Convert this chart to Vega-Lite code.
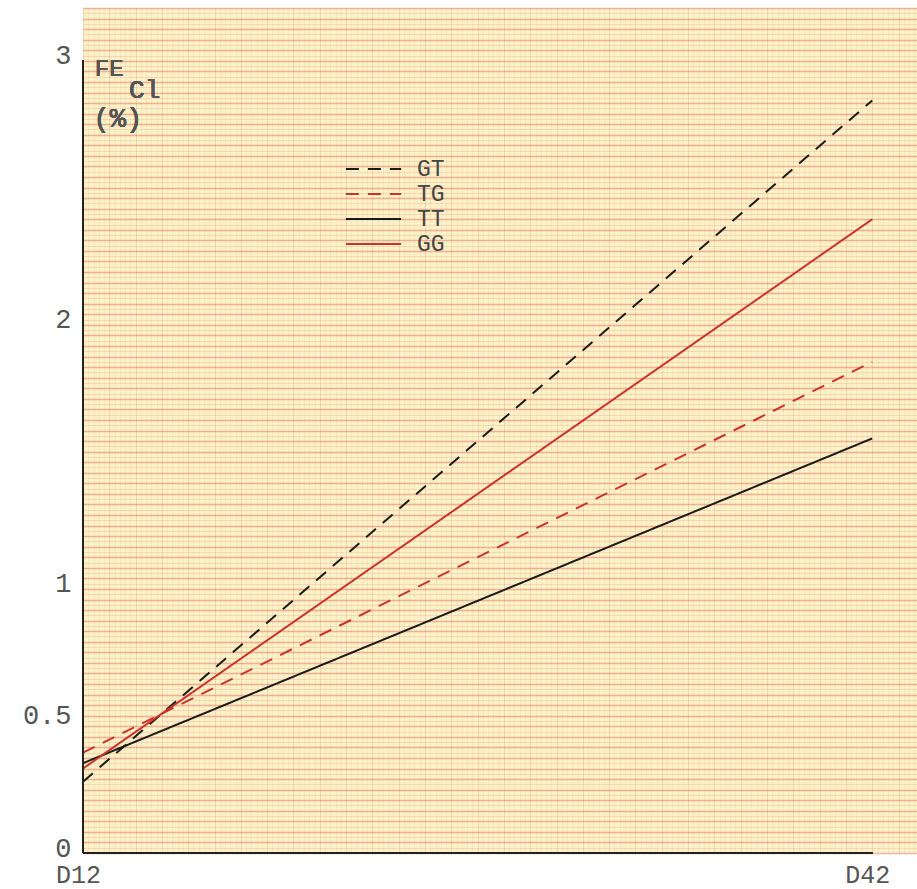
{
  "$schema": "https://vega.github.io/schema/vega-lite/v6.json",
  "width": 834,
  "height": 845,
  "autosize": {"type": "none"},
  "padding": {"left": 83, "top": 8, "right": 0, "bottom": 36},
  "background": "white",
  "config": {"view": {"fill": "#fdf1c8", "stroke": null}, "font": "Liberation Mono",
    "axisX": {"title": null, "domain": false, "tickCount": 158,
      "labelExpr": "datum.value==12?'D12':datum.value==42?'D42':''",
      "labelFont": "Liberation Mono", "labelFontSize": 25, "labelColor": "#555",
      "labelOverlap": false, "labelBound": false, "labelFlush": false, "labelPadding": 15, "labelOffset": -5,
      "grid": true, "gridWidth": 1,
      "gridColor": {"condition": {"test": "round(datum.value*5)%5==0", "value": "#d9a890"}, "value": "#d8cfae"},
      "gridOpacity": {"condition": {"test": "round(datum.value*5)%5==0", "value": 0.7}, "value": 0.55},
      "ticks": true, "tickSize": -6, "tickWidth": 2, "tickColor": "#222",
      "tickOpacity": {"condition": {"test": "datum.value==42", "value": 1}, "value": 0}},
    "axisY": {"title": null, "domain": false, "tickCount": 160,
      "labelExpr": "datum.value==3?'3':datum.value==2?'2':datum.value==1?'1':datum.value==0.5?'0.5':datum.value==0?'0':''",
      "labelFont": "Liberation Mono", "labelFontSize": 27, "labelColor": "#555",
      "labelOverlap": false, "labelBound": false, "labelFlush": false, "labelPadding": 19, "labelOffset": -5,
      "grid": true,
      "gridWidth": {"condition": {"test": "round(datum.value*50)%2==0", "value": 1.3}, "value": 1},
      "gridColor": {"condition": {"test": "round(datum.value*50)%2==0", "value": "#e0624e"}, "value": "#eeac86"},
      "gridOpacity": {"condition": {"test": "round(datum.value*50)%2==0", "value": 0.75}, "value": 0.6},
      "ticks": true, "tickSize": -7, "tickWidth": 2, "tickColor": "#222",
      "tickOpacity": {"condition": {"test": "datum.value==0.5||datum.value==1||datum.value==2||datum.value==3", "value": 1}, "value": 0}}
  },
  "data": {"values": [
    {"genotype": "GT", "day": 12, "fe": 0.27},
    {"genotype": "GT", "day": 42, "fe": 2.85},
    {"genotype": "TG", "day": 12, "fe": 0.38},
    {"genotype": "TG", "day": 42, "fe": 1.86},
    {"genotype": "TT", "day": 12, "fe": 0.34},
    {"genotype": "TT", "day": 42, "fe": 1.57},
    {"genotype": "GG", "day": 12, "fe": 0.32},
    {"genotype": "GG", "day": 42, "fe": 2.40}
  ]},
  "layer": [
    {
      "mark": {"type": "line", "strokeWidth": 2},
      "encoding": {
        "x": {"field": "day", "type": "quantitative",
          "scale": {"domain": [12, 43.7], "nice": false, "zero": false}},
        "y": {"field": "fe", "type": "quantitative",
          "scale": {"domain": [0, 3.2], "nice": false}},
        "color": {"field": "genotype", "type": "nominal",
          "scale": {"domain": ["GT", "TG", "TT", "GG"], "range": ["#1a1a1a", "#c9342c", "#1a1a1a", "#c9342c"]},
          "legend": {"orient": "none", "legendX": 277.5, "legendY": 148, "title": null,
            "symbolType": "M-2.3,0H2.3", "symbolSize": 576, "symbolStrokeWidth": 2, "rowPadding": 0,
            "labelFont": "Liberation Mono", "labelFontSize": 23, "labelColor": "#444", "labelOffset": 30.5}},
        "strokeDash": {"field": "genotype", "type": "nominal",
          "scale": {"domain": ["GT", "TG", "TT", "GG"], "range": [[13, 9], [13, 9], [1, 0], [1, 0]]},
          "legend": {"orient": "none", "legendX": 277.5, "legendY": 148, "title": null,
            "symbolType": "M-2.3,0H2.3", "symbolSize": 576, "symbolStrokeWidth": 2, "rowPadding": 0,
            "labelFont": "Liberation Mono", "labelFontSize": 23, "labelColor": "#444", "labelOffset": 30.5}}
      }
    },
    {
      "mark": {"type": "rule", "color": "#222", "strokeWidth": 2},
      "encoding": {"x": {"datum": 12}, "y": {"datum": 0}, "y2": {"datum": 3}}
    },
    {
      "mark": {"type": "rule", "color": "#222", "strokeWidth": 2},
      "encoding": {"x": {"datum": 12}, "x2": {"datum": 42}, "y": {"datum": 0}}
    },
    {
      "mark": {"type": "text", "text": "FE", "font": "Liberation Mono", "fontSize": 24, "color": "#555", "align": "left", "baseline": "middle"},
      "encoding": {"x": {"datum": 12.45}, "y": {"datum": 2.97}}
    },
    {
      "mark": {"type": "text", "text": "Cl", "font": "Liberation Mono", "fontSize": 26, "color": "#555", "align": "left", "baseline": "middle"},
      "encoding": {"x": {"datum": 13.75}, "y": {"datum": 2.89}}
    },
    {
      "mark": {"type": "text", "text": "(%)", "font": "Liberation Mono", "fontSize": 27, "color": "#555", "align": "left", "baseline": "middle"},
      "encoding": {"x": {"datum": 12.4}, "y": {"datum": 2.78}}
    }
  ]
}
